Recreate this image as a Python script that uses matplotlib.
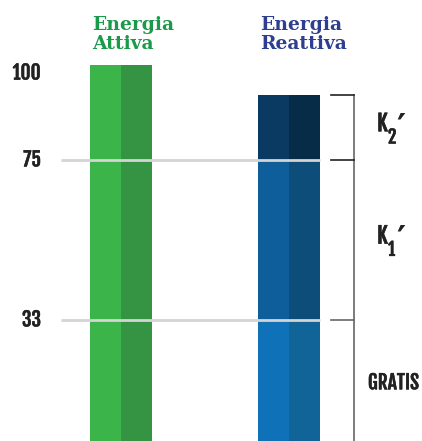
import matplotlib.pyplot as plt
import matplotlib.patheffects as pe

# data
columns = ["Energia\nAttiva", "Energia\nReattiva"]
attiva_value = 100
reattiva_edges = [0, 33, 75, 92]
tick_values = [100, 75, 33]
grid_values = [75, 33]
band_labels = [("K", "2"), ("K", "1")]
gratis_label = "GRATIS"

green_light, green_dark = "#3bb54a", "#359443"
blue_light = ["#0f72b9", "#0d5e9b", "#0a3a62"]
blue_dark = ["#106497", "#0c4d79", "#072c48"]
title_colors = ["#1a9a4a", "#2e3f8f"]

narrow = ["Fjalla One", "DejaVu Sans"]
serif = ["DejaVu Serif"]
ink = "#222222"
heavy = [pe.withStroke(linewidth=0.35, foreground=ink)]

fig = plt.figure(figsize=(4.22, 4.41), dpi=100)
ax = fig.add_axes([0, 0, 1, 1])
ax.set_xlim(-0.720, 1.792)
ax.set_ylim(1.23, 117.0)
ax.axis("off")

w = 0.369
half = w / 2

# green bar (two tones)
ax.bar(0 - half / 2, attiva_value, width=half, color=green_light, zorder=1)
ax.bar(0 + half / 2, attiva_value, width=half, color=green_dark, zorder=1)

# blue stacked bar
for i in range(len(reattiva_edges) - 1):
    lo, hi = reattiva_edges[i], reattiva_edges[i + 1]
    ax.bar(1 - half / 2, hi - lo, bottom=lo, width=half, color=blue_light[i], zorder=1)
    ax.bar(1 + half / 2, hi - lo, bottom=lo, width=half, color=blue_dark[i], zorder=1)

# grid lines over bars
for g in grid_values:
    ax.plot([-0.357, 1.185], [g, g], color="#d4d4d4", lw=2, zorder=3, solid_capstyle="butt")

# y labels (100 is aligned with the bar top instead of centred)
for v in tick_values:
    yy = v - 2.2 if v == 100 else v
    ax.text(-0.476, yy, str(v), ha="right", va="center", fontsize=14,
            family=narrow, color=ink, path_effects=heavy)

# column titles
for i, (t, c) in enumerate(zip(columns, title_colors)):
    ax.text(i - half + 0.01, 103, t, ha="left", va="bottom",
            fontsize=13.5, fontweight="bold", family=serif, color=c,
            linespacing=1.1)

# bracket
bx = 1.387
ax.plot([bx, bx], [ax.get_ylim()[0] - 5, reattiva_edges[-1]], color="#666666", lw=1.2, zorder=2, clip_on=False)
for v in reattiva_edges[1:]:
    col = ink if v != 33 else "#666666"
    ax.plot([1.25, bx], [v, v], color=col, lw=1.2, zorder=2)

# K labels
mids = [(reattiva_edges[2] + reattiva_edges[3]) / 2, (reattiva_edges[1] + reattiva_edges[2]) / 2]
for (k, sub), m in zip(band_labels, mids):
    ky = m + 1
    ax.text(1.524, ky, k, ha="left", va="center", fontsize=16, family=narrow,
            color=ink, path_effects=heavy)
    ax.text(1.589, ky - 3.6, sub, ha="left", va="center", fontsize=13, family=narrow,
            color=ink, path_effects=heavy)
    ax.text(1.640, ky - 1.2, "\u2032", ha="left", va="center", fontsize=25, fontweight="bold",
            family="DejaVu Sans", color=ink)

ax.text(1.47, 16.5, gratis_label, ha="left", va="center", fontsize=14,
        family=narrow, color=ink, path_effects=heavy)

fig.savefig("out.png", dpi=100)
